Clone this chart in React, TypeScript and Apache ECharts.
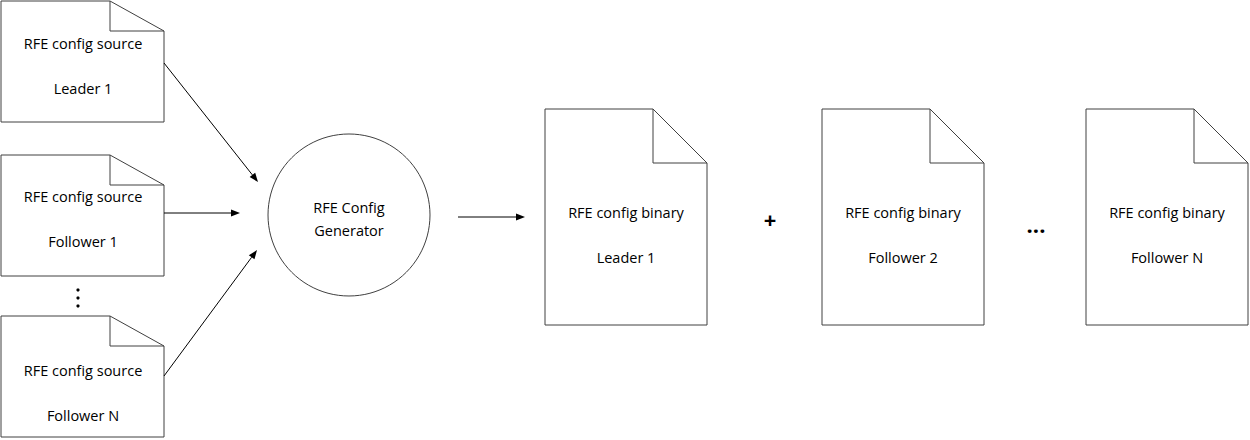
import { useEffect, useRef } from 'react';
import * as echarts from 'echarts';

const sourceTitles = ['RFE config source', 'RFE config source', 'RFE config source'];
const sourceNames = ['Leader 1', 'Follower 1', 'Follower N'];
const sourceTops = [1, 155, 316];
const sourceTitleY = [43, 196, 370];
const sourceNameY = [88, 241, 415];
const binaryTitles = ['RFE config binary', 'RFE config binary', 'RFE config binary'];
const binaryNames = ['Leader 1', 'Follower 2', 'Follower N'];
const binaryLefts = [545, 822, 1086];
const generatorLines = ['RFE Config', 'Generator'];

const FONT = '"Open Sans", sans-serif';
const LINE = '#404040';

const doc = (x: number, y: number, w: number, h: number, fw: number, fh: number) => [
  {
    type: 'polygon',
    shape: { points: [[x, y], [x + w - fw, y], [x + w, y + fh], [x + w, y + h], [x, y + h]] },
    style: { fill: '#fff', stroke: LINE, lineWidth: 1 },
  },
  {
    type: 'polyline',
    shape: { points: [[x + w - fw, y], [x + w - fw, y + fh], [x + w, y + fh]] },
    style: { fill: null, stroke: LINE, lineWidth: 1 },
  },
];

const label = (x: number, y: number, text: string, size = 14.5, weight = 'normal') => ({
  type: 'text',
  x,
  y,
  style: { text, fill: '#000', font: `${weight} ${size}px ${FONT}`, align: 'center', verticalAlign: 'middle' },
});

const arrow = (x1: number, y1: number, x2: number, y2: number) => {
  const a = Math.atan2(y2 - y1, x2 - x1);
  const L = 9, W = 3.5;
  const bx = x2 - L * Math.cos(a), by = y2 - L * Math.sin(a);
  return [
    { type: 'line', shape: { x1, y1, x2: bx, y2: by }, style: { stroke: '#000', lineWidth: 1 } },
    {
      type: 'polygon',
      shape: { points: [[x2, y2], [bx - W * Math.sin(a), by + W * Math.cos(a)], [bx + W * Math.sin(a), by - W * Math.cos(a)]] },
      style: { fill: '#000' },
    },
  ];
};

export default function App() {
  const ref = useRef<HTMLDivElement>(null);
  useEffect(() => {
    if (!ref.current) return;
    document.body.style.margin = '0';
    const chart = echarts.init(ref.current, null, { renderer: 'svg' });
    const elements: any[] = [];
    sourceTops.forEach((t, i) => {
      elements.push(...doc(1, t, 163, 121, 54, 30));
      elements.push(label(83, sourceTitleY[i], sourceTitles[i]));
      elements.push(label(83, sourceNameY[i], sourceNames[i]));
    });
    binaryLefts.forEach((l, i) => {
      elements.push(...doc(l, 109, 162, 216, 54, 54));
      elements.push(label(l + 81, 212, binaryTitles[i]));
      elements.push(label(l + 81, 257, binaryNames[i]));
    });
    elements.push({ type: 'circle', shape: { cx: 349, cy: 215, r: 81 }, style: { fill: '#fff', stroke: LINE, lineWidth: 1 } });
    elements.push(label(349, 207, generatorLines[0]));
    elements.push(label(349, 230, generatorLines[1]));
    elements.push(...arrow(164, 63, 258, 182));
    elements.push(...arrow(164, 213, 240, 213));
    elements.push(...arrow(164, 376, 257, 250));
    elements.push(...arrow(458, 217, 525, 217));
    elements.push(label(770, 219, '+', 22, 'bold'));
    elements.push(label(1036, 224, '...', 22, 'bold'));
    [290, 298, 306].forEach((y) => elements.push({ type: 'circle', shape: { cx: 78, cy: y, r: 1.6 }, style: { fill: '#000' } }));
    chart.setOption({ animation: false, backgroundColor: '#fff', graphic: { elements } });
    return () => chart.dispose();
  }, []);
  return <div ref={ref} style={{ width: 1250, height: 440 }} />;
}
